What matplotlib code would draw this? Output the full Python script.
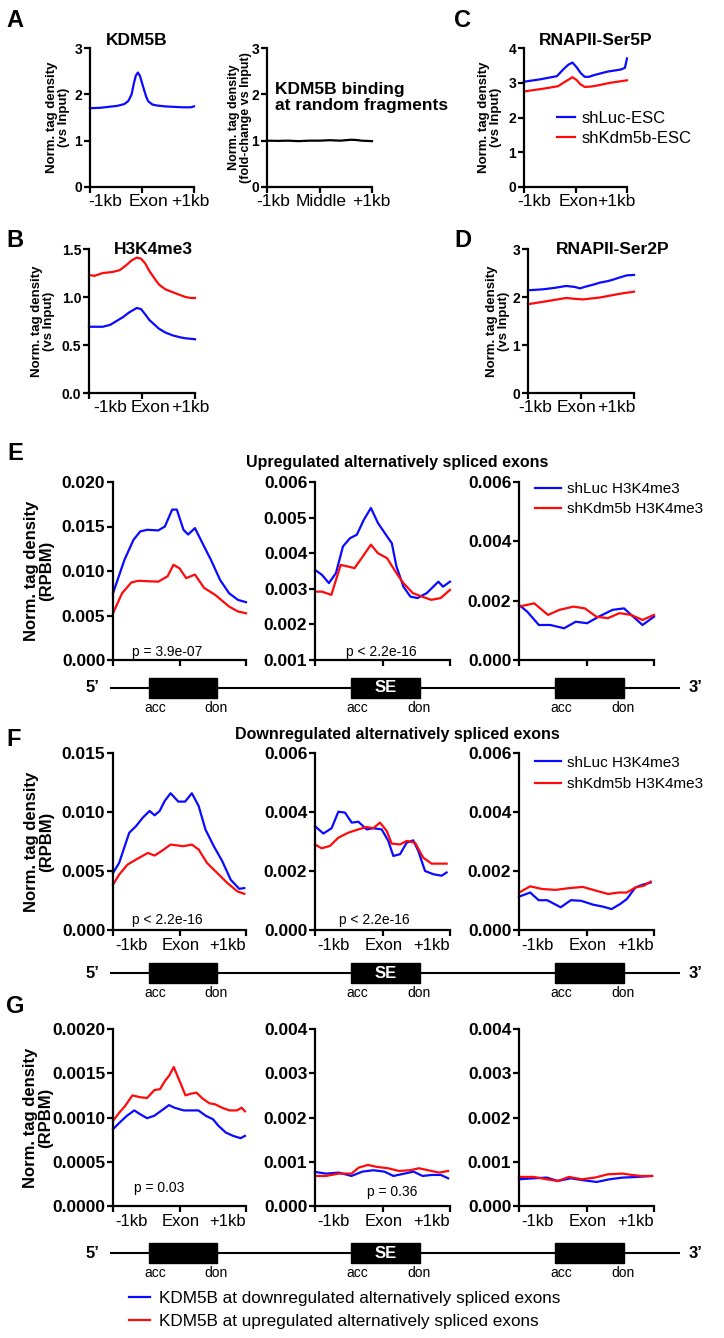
import matplotlib
matplotlib.use("Agg")
import matplotlib.pyplot as plt
from matplotlib.ticker import FormatStrFormatter
from matplotlib.patches import Rectangle
from matplotlib.lines import Line2D

plt.rcParams['font.family'] = ['Liberation Sans', 'DejaVu Sans']

BLUE = '#0a0aff'
RED = '#ff0a0a'

# positions are fractions of the window: 0 = -1kb, 0.5 = exon, 1 = +1kb

# A: KDM5B
a_kdm5b_x = [0, 0.1, 0.26, 0.33, 0.37, 0.40, 0.42, 0.44, 0.46, 0.48, 0.51, 0.54, 0.56, 0.60, 0.64, 0.72, 0.8, 0.9, 0.97, 1.0]
a_kdm5b_y = [1.70, 1.71, 1.75, 1.79, 1.86, 2.00, 2.22, 2.40, 2.47, 2.40, 2.17, 1.95, 1.85, 1.78, 1.76, 1.74, 1.73, 1.72, 1.72, 1.74]
a_random_x = [0, 0.1, 0.2, 0.3, 0.4, 0.5, 0.6, 0.7, 0.8, 0.85, 0.9, 1.0]
a_random_y = [1.0, 0.995, 1.0, 0.99, 1.0, 1.0, 1.01, 1.0, 1.02, 1.015, 1.0, 0.99]

# B: H3K4me3
b_red_x = [0, 0.05, 0.13, 0.22, 0.29, 0.35, 0.40, 0.45, 0.49, 0.53, 0.57, 0.62, 0.66, 0.72, 0.79, 0.86, 0.91, 0.96, 1.0]
b_red_y = [1.23, 1.22, 1.25, 1.26, 1.28, 1.33, 1.38, 1.41, 1.40, 1.35, 1.27, 1.19, 1.13, 1.08, 1.05, 1.02, 1.00, 0.99, 0.99]
b_blue_x = [0, 0.13, 0.2, 0.26, 0.32, 0.38, 0.45, 0.49, 0.53, 0.57, 0.62, 0.66, 0.72, 0.79, 0.86, 0.91, 1.0]
b_blue_y = [0.69, 0.69, 0.71, 0.75, 0.79, 0.84, 0.885, 0.875, 0.82, 0.76, 0.71, 0.67, 0.63, 0.60, 0.58, 0.57, 0.56]

# C: RNAPII-Ser5P
c_blue_x = [0, 0.16, 0.32, 0.38, 0.43, 0.47, 0.51, 0.55, 0.59, 0.63, 0.68, 0.81, 0.94, 0.98, 1.0]
c_blue_y = [3.03, 3.10, 3.19, 3.38, 3.52, 3.58, 3.45, 3.28, 3.17, 3.17, 3.22, 3.32, 3.38, 3.43, 3.70]
c_red_x = [0, 0.19, 0.33, 0.40, 0.47, 0.51, 0.55, 0.59, 0.65, 0.71, 0.84, 1.0]
c_red_y = [2.75, 2.83, 2.90, 3.03, 3.16, 3.08, 2.95, 2.88, 2.89, 2.92, 3.0, 3.07]

# D: RNAPII-Ser2P
d_blue_x = [0, 0.14, 0.25, 0.36, 0.44, 0.49, 0.55, 0.62, 0.68, 0.75, 0.8, 0.87, 0.93, 1.0]
d_blue_y = [2.14, 2.16, 2.19, 2.23, 2.21, 2.18, 2.22, 2.26, 2.30, 2.33, 2.36, 2.41, 2.45, 2.46]
d_red_x = [0, 0.17, 0.36, 0.45, 0.52, 0.6, 0.68, 0.8, 0.9, 1.0]
d_red_y = [1.85, 1.91, 1.98, 1.96, 1.95, 1.97, 1.99, 2.04, 2.08, 2.11]

# E: upregulated exons (upstream / SE / downstream)
e1_blue_x = [0, 0.086, 0.154, 0.205, 0.257, 0.34, 0.39, 0.445, 0.48, 0.53, 0.565, 0.616, 0.685, 0.736, 0.805, 0.873, 0.94, 1.0]
e1_blue_y = [0.0075, 0.01125, 0.0135, 0.01445, 0.01463, 0.01456, 0.015, 0.0169, 0.0169, 0.01463, 0.0141, 0.01482, 0.01276, 0.01126, 0.009, 0.0075, 0.00675, 0.0065]
e1_red_x = [0, 0.068, 0.137, 0.188, 0.34, 0.41, 0.455, 0.5, 0.55, 0.616, 0.685, 0.77, 0.873, 0.94, 1.0]
e1_red_y = [0.00525, 0.0075, 0.0087, 0.0089, 0.0088, 0.0094, 0.0107, 0.0103, 0.0092, 0.0096, 0.0081, 0.0073, 0.006, 0.00545, 0.00525]
e2_blue_x = [0, 0.052, 0.103, 0.155, 0.207, 0.259, 0.31, 0.362, 0.414, 0.466, 0.534, 0.569, 0.603, 0.655, 0.707, 0.759, 0.828, 0.914, 0.948, 1.0]
e2_blue_y = [0.00353, 0.00339, 0.00316, 0.00344, 0.00419, 0.00442, 0.00452, 0.00494, 0.00527, 0.00485, 0.00447, 0.00428, 0.00363, 0.00306, 0.00278, 0.00274, 0.00288, 0.0032, 0.00306, 0.0032]
e2_red_x = [0, 0.052, 0.121, 0.19, 0.24, 0.293, 0.345, 0.414, 0.466, 0.534, 0.603, 0.655, 0.724, 0.793, 0.862, 0.931, 1.0]
e2_red_y = [0.00292, 0.00292, 0.00283, 0.00367, 0.00363, 0.00358, 0.00386, 0.00424, 0.004, 0.00386, 0.00344, 0.00316, 0.00288, 0.00278, 0.00269, 0.00274, 0.00297]
e3_blue_x = [0, 0.061, 0.147, 0.232, 0.334, 0.42, 0.505, 0.59, 0.693, 0.778, 0.846, 0.915, 1.0]
e3_blue_y = [0.00186, 0.00163, 0.00118, 0.00118, 0.00107, 0.00129, 0.00124, 0.00146, 0.00169, 0.00174, 0.00146, 0.00118, 0.00146]
e3_red_x = [0, 0.113, 0.215, 0.3, 0.403, 0.488, 0.573, 0.659, 0.744, 0.829, 0.915, 1.0]
e3_red_y = [0.0018, 0.00191, 0.00152, 0.00169, 0.0018, 0.00174, 0.00146, 0.00141, 0.00158, 0.00152, 0.00135, 0.00152]

# F: downregulated exons
f1_blue_x = [0, 0.046, 0.122, 0.173, 0.224, 0.275, 0.313, 0.351, 0.389, 0.433, 0.491, 0.542, 0.593, 0.644, 0.695, 0.758, 0.822, 0.885, 0.949, 0.987]
f1_blue_y = [0.00483, 0.00568, 0.00824, 0.0088, 0.00952, 0.01009, 0.00972, 0.01009, 0.01094, 0.01159, 0.01088, 0.01088, 0.01159, 0.01051, 0.00852, 0.0071, 0.00582, 0.00426, 0.00349, 0.00355]
f1_red_x = [0, 0.046, 0.109, 0.173, 0.262, 0.313, 0.364, 0.433, 0.529, 0.593, 0.644, 0.707, 0.784, 0.86, 0.936, 0.987]
f1_red_y = [0.00384, 0.00469, 0.00554, 0.00597, 0.00653, 0.00631, 0.00668, 0.00724, 0.0071, 0.00724, 0.00682, 0.00568, 0.00483, 0.00398, 0.00327, 0.00307]
f2_blue_x = [0, 0.062, 0.123, 0.173, 0.222, 0.272, 0.321, 0.383, 0.432, 0.494, 0.543, 0.58, 0.63, 0.679, 0.728, 0.765, 0.815, 0.877, 0.938, 0.975]
f2_blue_y = [0.00352, 0.00327, 0.00345, 0.00401, 0.00398, 0.00364, 0.00367, 0.00341, 0.00345, 0.00341, 0.00302, 0.00251, 0.00257, 0.00296, 0.00304, 0.00268, 0.002, 0.00189, 0.00184, 0.00195]
f2_red_x = [0, 0.049, 0.111, 0.173, 0.247, 0.321, 0.383, 0.432, 0.481, 0.531, 0.568, 0.63, 0.679, 0.741, 0.802, 0.864, 0.926, 0.975]
f2_red_y = [0.0029, 0.00277, 0.00285, 0.00313, 0.0033, 0.00341, 0.00349, 0.00345, 0.00364, 0.00336, 0.00293, 0.0029, 0.00302, 0.00296, 0.00245, 0.00225, 0.00225, 0.00225]
f3_blue_x = [0, 0.083, 0.146, 0.209, 0.309, 0.384, 0.46, 0.548, 0.623, 0.686, 0.749, 0.799, 0.862, 0.912, 0.975]
f3_blue_y = [0.00113, 0.00127, 0.00101, 0.00101, 0.00077, 0.00101, 0.00099, 0.00086, 0.00079, 0.00071, 0.00088, 0.00105, 0.00144, 0.00153, 0.00161]
f3_red_x = [0, 0.083, 0.171, 0.271, 0.372, 0.472, 0.573, 0.661, 0.736, 0.799, 0.862, 0.925, 0.975]
f3_red_y = [0.00127, 0.00148, 0.00139, 0.00136, 0.00142, 0.00146, 0.00133, 0.00122, 0.00127, 0.00127, 0.00144, 0.0015, 0.00164]

# G: KDM5B at down (blue) / up (red) regulated exons
g1_red_x = [0, 0.05, 0.091, 0.146, 0.201, 0.256, 0.311, 0.353, 0.394, 0.421, 0.457, 0.504, 0.545, 0.587, 0.628, 0.669, 0.725, 0.766, 0.821, 0.876, 0.931, 0.967, 0.992]
g1_red_y = [0.000962, 0.00106, 0.00113, 0.00125, 0.00123, 0.00122, 0.00131, 0.00132, 0.00142, 0.00147, 0.00157, 0.0014, 0.00125, 0.00127, 0.00128, 0.00122, 0.00116, 0.00115, 0.00111, 0.00108, 0.00108, 0.00111, 0.00107]
g1_blue_x = [0, 0.05, 0.105, 0.16, 0.201, 0.256, 0.311, 0.366, 0.421, 0.463, 0.532, 0.587, 0.642, 0.697, 0.752, 0.793, 0.848, 0.904, 0.959, 0.992]
g1_blue_y = [0.000868, 0.000943, 0.00102, 0.00108, 0.00104, 0.000992, 0.00102, 0.00108, 0.00114, 0.00111, 0.00108, 0.00108, 0.00108, 0.00102, 0.00098, 0.000906, 0.00083, 0.000792, 0.000766, 0.000792]
g2_blue_x = [0, 0.081, 0.176, 0.27, 0.351, 0.432, 0.514, 0.581, 0.662, 0.73, 0.797, 0.865, 0.932, 0.986]
g2_blue_y = [0.00077, 0.000732, 0.000755, 0.000679, 0.000777, 0.000808, 0.000777, 0.000679, 0.000732, 0.000777, 0.000679, 0.000702, 0.000702, 0.000626]
g2_red_x = [0, 0.081, 0.176, 0.27, 0.324, 0.392, 0.459, 0.541, 0.622, 0.703, 0.77, 0.838, 0.919, 0.986]
g2_red_y = [0.000679, 0.000679, 0.000732, 0.000732, 0.000868, 0.000928, 0.000883, 0.000853, 0.000792, 0.000808, 0.000853, 0.000808, 0.000755, 0.000792]
g3_blue_x = [0, 0.11, 0.205, 0.288, 0.384, 0.479, 0.575, 0.671, 0.767, 0.877, 0.986]
g3_blue_y = [0.000604, 0.000626, 0.000642, 0.000566, 0.000626, 0.000581, 0.000543, 0.000604, 0.000642, 0.000657, 0.000679]
g3_red_x = [0, 0.11, 0.205, 0.288, 0.37, 0.466, 0.562, 0.658, 0.767, 0.836, 0.904, 0.986]
g3_red_y = [0.000657, 0.000657, 0.000604, 0.000566, 0.000657, 0.000604, 0.000642, 0.000717, 0.000732, 0.000702, 0.000679, 0.000679]

W, H = 724, 1338
fig = plt.figure(figsize=(W / 100, H / 100), dpi=100)


def px_axes(x0, y0, x1, y1):
    return fig.add_axes([x0 / W, 1 - y1 / H, (x1 - x0) / W, (y1 - y0) / H])


def style(ax, ylim, yticks, fmt, ysize, xlabels=None, xpos=None, xsize=12.5, xpad=5):
    for s in ['top', 'right']:
        ax.spines[s].set_visible(False)
    for s in ['left', 'bottom']:
        ax.spines[s].set_linewidth(1.6)
    ax.set_xlim(0, 1)
    ax.set_ylim(*ylim)
    ax.set_yticks(yticks)
    ax.yaxis.set_major_formatter(FormatStrFormatter(fmt))
    ax.set_xticks([0, 0.5, 1])
    ax.set_xticklabels([])
    ax.tick_params(width=1.6, length=4, pad=1.5)
    ax.tick_params(axis='y', labelsize=ysize)
    for t in ax.get_yticklabels():
        t.set_fontweight('bold')
    if xlabels:
        # labels sit loosely under the axis, not exactly on the tick marks
        ax.set_xticks(xpos, minor=True)
        ax.set_xticklabels(xlabels, minor=True, fontsize=xsize)
        ax.tick_params(axis='x', which='minor', length=0, pad=xpad)


def ylab(ax, text, xfrac, size):
    ax.set_ylabel(text, fontsize=size, fontweight='bold', linespacing=1.05)
    ax.yaxis.set_label_coords(xfrac, 0.5)


def letter(x, y, s):
    fig.text(x / W, 1 - y / H, s, fontsize=17, fontweight='bold', va='top')


kb = ['-1kb', 'Exon', '+1kb']
lw = 1.6

# ---------------- A ----------------
ax = px_axes(90, 48, 194, 187)
ax.plot(a_kdm5b_x, a_kdm5b_y, color=BLUE, lw=lw, clip_on=False)
style(ax, (0, 3), [0, 1, 2, 3], '%d', 10, kb, [0.145, 0.567, 0.96])
ylab(ax, 'Norm. tag density\n(vs Input)', -0.19, 9.5)
ax.text(0.45, 1.0, 'KDM5B', transform=ax.transAxes, ha='center', va='bottom',
        fontsize=12.5, fontweight='bold')

ax = px_axes(267, 48, 372, 187)
ax.plot(a_random_x, a_random_y, color='black', lw=lw, clip_on=False)
style(ax, (0, 3), [0, 1, 2, 3], '%d', 10, ['-1kb', 'Middle', '+1kb'], [0.06, 0.52, 0.99])
ylab(ax, 'Norm. tag density\n(fold-change vs Input)', -0.14, 9)
ax.text(0.08, 0.645, 'KDM5B binding\nat random fragments', transform=ax.transAxes,
        ha='left', va='center', fontsize=12.5, fontweight='bold', linespacing=1.1, clip_on=False)
letter(6, 9, 'A')

# ---------------- C ----------------
ax = px_axes(524, 48, 627, 187)
lb, = ax.plot(c_blue_x, c_blue_y, color=BLUE, lw=lw, clip_on=False)
lr, = ax.plot(c_red_x, c_red_y, color=RED, lw=lw, clip_on=False)
style(ax, (0, 4), [0, 1, 2, 3, 4], '%d', 10, kb, [0.10, 0.53, 0.90])
ylab(ax, 'Norm. tag density\n(vs Input)', -0.21, 9.5)
ax.text(0.70, 1.0, 'RNAPII-Ser5P', transform=ax.transAxes, ha='center', va='bottom',
        fontsize=12.5, fontweight='bold')
ax.legend([lb, lr], ['shLuc-ESC', 'shKdm5b-ESC'], loc='upper left', bbox_to_anchor=(0.32, 0.55),
          frameon=False, fontsize=12, handlelength=1.1, handletextpad=0.4, borderpad=0,
          borderaxespad=0, labelspacing=0.3)
letter(454, 9, 'C')

# ---------------- B ----------------
ax = px_axes(89, 249, 195, 393)
ax.plot(b_red_x, b_red_y, color=RED, lw=lw, clip_on=False)
ax.plot(b_blue_x, b_blue_y, color=BLUE, lw=lw, clip_on=False)
style(ax, (0, 1.5), [0, 0.5, 1.0, 1.5], '%.1f', 10, kb, [0.2, 0.58, 0.96])
ylab(ax, 'Norm. tag density\n(vs Input)', -0.32, 9.5)
ax.text(0.61, 1.0, 'H3K4me3', transform=ax.transAxes, ha='center', va='center',
        fontsize=12.5, fontweight='bold')
letter(6, 229, 'B')

# ---------------- D ----------------
ax = px_axes(528, 249, 634, 393)
ax.plot(d_blue_x, d_blue_y, color=BLUE, lw=lw, clip_on=False)
ax.plot(d_red_x, d_red_y, color=RED, lw=lw, clip_on=False)
style(ax, (0, 3), [0, 1, 2, 3], '%d', 10, kb, [0.07, 0.46, 0.83])
ylab(ax, 'Norm. tag density\n(vs Input)', -0.17, 9.5)
ax.text(0.80, 1.0, 'RNAPII-Ser2P', transform=ax.transAxes, ha='center', va='center',
        fontsize=12.5, fontweight='bold')
letter(454, 229, 'D')

# ---------------- E / F / G ----------------
cols = [(113, 246), (315, 450), (519, 654)]
rows = {'E': (482, 660), 'F': (753, 930), 'G': (1029, 1206)}
kb_pos = [0.14, 0.51, 0.86]


def row_axes(key):
    y0, y1 = rows[key]
    return [px_axes(c0, y0, c1, y1) for c0, c1 in cols]


def gene_diagram(y_line, panels):
    g = fig.add_axes([0, 1 - (y_line + 30) / H, 1, 60 / H])
    g.set_xlim(0, W)
    g.set_ylim(-30, 30)
    g.axis('off')
    g.plot([111, 679], [0, 0], color='black', lw=1.5)
    g.text(92, 0, '5\u2019', ha='center', va='center', fontsize=12, fontweight='bold')
    g.text(696, 0, '3\u2019', ha='center', va='center', fontsize=12, fontweight='bold')
    for i, p in enumerate(panels):
        bb = p.get_position()
        x0 = bb.x0 * W
        w = bb.width * W
        b0, b1 = x0 + 0.27 * w, x0 + 0.78 * w
        g.add_patch(Rectangle((b0, -10), b1 - b0, 20, color='black'))
        if i == 1:
            g.text((b0 + b1) / 2, 0, 'SE', color='white', ha='center', va='center',
                   fontsize=12, fontweight='bold')
        g.text(b0 + 6, -20, 'acc', ha='center', va='center', fontsize=10)
        g.text(b1 - 1, -20, 'don', ha='center', va='center', fontsize=10)


def ptext(ax, x, y, s):
    ax.text(x, y, s, transform=ax.transAxes, ha='center', va='center', fontsize=10)


rpbm = 'Norm. tag density\n(RPBM)'

# E
e = row_axes('E')
e[0].plot(e1_blue_x, e1_blue_y, color=BLUE, lw=lw, clip_on=False)
e[0].plot(e1_red_x, e1_red_y, color=RED, lw=lw, clip_on=False)
style(e[0], (0, 0.02), [0, 0.005, 0.01, 0.015, 0.02], '%.3f', 12.5)
ylab(e[0], rpbm, -0.44, 12)
ptext(e[0], 0.41, 0.045, 'p = 3.9e-07')
e[1].plot(e2_blue_x, e2_blue_y, color=BLUE, lw=lw, clip_on=False)
e[1].plot(e2_red_x, e2_red_y, color=RED, lw=lw, clip_on=False)
style(e[1], (0.001, 0.006), [0.001, 0.002, 0.003, 0.004, 0.005, 0.006], '%.3f', 12.5)
ptext(e[1], 0.49, 0.045, 'p < 2.2e-16')
eb, = e[2].plot(e3_blue_x, e3_blue_y, color=BLUE, lw=lw, clip_on=False)
er, = e[2].plot(e3_red_x, e3_red_y, color=RED, lw=lw, clip_on=False)
style(e[2], (0, 0.006), [0, 0.002, 0.004, 0.006], '%.3f', 12.5)
e[2].legend([eb, er], ['shLuc H3K4me3', 'shKdm5b H3K4me3'], loc='upper left',
            bbox_to_anchor=(0.12, 1.0), frameon=False, fontsize=11, handlelength=1.7,
            handletextpad=0.35, borderpad=0, borderaxespad=0, labelspacing=0.4)
fig.text(397 / W, 1 - 462 / H, 'Upregulated alternatively spliced exons', ha='center',
         va='center', fontsize=11.5, fontweight='bold')
letter(7, 442, 'E')
gene_diagram(688, e)

# F
f = row_axes('F')
f[0].plot(f1_blue_x, f1_blue_y, color=BLUE, lw=lw, clip_on=False)
f[0].plot(f1_red_x, f1_red_y, color=RED, lw=lw, clip_on=False)
style(f[0], (0, 0.015), [0, 0.005, 0.01, 0.015], '%.3f', 12.5, kb, kb_pos, 12, 6)
ylab(f[0], rpbm, -0.44, 12)
ptext(f[0], 0.41, 0.056, 'p < 2.2e-16')
f[1].plot(f2_blue_x, f2_blue_y, color=BLUE, lw=lw, clip_on=False)
f[1].plot(f2_red_x, f2_red_y, color=RED, lw=lw, clip_on=False)
style(f[1], (0, 0.006), [0, 0.002, 0.004, 0.006], '%.3f', 12.5, kb, kb_pos, 12, 6)
ptext(f[1], 0.44, 0.056, 'p < 2.2e-16')
fb, = f[2].plot(f3_blue_x, f3_blue_y, color=BLUE, lw=lw, clip_on=False)
fr, = f[2].plot(f3_red_x, f3_red_y, color=RED, lw=lw, clip_on=False)
style(f[2], (0, 0.006), [0, 0.002, 0.004, 0.006], '%.3f', 12.5, kb, kb_pos, 12, 6)
f[2].legend([fb, fr], ['shLuc H3K4me3', 'shKdm5b H3K4me3'], loc='upper left',
            bbox_to_anchor=(0.12, 0.985), frameon=False, fontsize=11, handlelength=1.7,
            handletextpad=0.35, borderpad=0, borderaxespad=0, labelspacing=0.5)
fig.text(397 / W, 1 - 735 / H, 'Downregulated alternatively spliced exons', ha='center',
         va='center', fontsize=11.5, fontweight='bold')
letter(6, 728, 'F')
gene_diagram(973, f)

# G
g = row_axes('G')
g[0].plot(g1_blue_x, g1_blue_y, color=BLUE, lw=lw, clip_on=False)
g[0].plot(g1_red_x, g1_red_y, color=RED, lw=lw, clip_on=False)
style(g[0], (0, 0.002), [0, 0.0005, 0.001, 0.0015, 0.002], '%.4f', 12.5, kb, kb_pos, 12, 6)
ylab(g[0], rpbm, -0.45, 12)
ptext(g[0], 0.35, 0.10, 'p = 0.03')
g[1].plot(g2_blue_x, g2_blue_y, color=BLUE, lw=lw, clip_on=False)
g[1].plot(g2_red_x, g2_red_y, color=RED, lw=lw, clip_on=False)
style(g[1], (0, 0.004), [0, 0.001, 0.002, 0.003, 0.004], '%.3f', 12.5, kb, kb_pos, 12, 6)
ptext(g[1], 0.57, 0.08, 'p = 0.36')
g[2].plot(g3_blue_x, g3_blue_y, color=BLUE, lw=lw, clip_on=False)
g[2].plot(g3_red_x, g3_red_y, color=RED, lw=lw, clip_on=False)
style(g[2], (0, 0.004), [0, 0.001, 0.002, 0.003, 0.004], '%.3f', 12.5, kb, kb_pos, 12, 6)
letter(6, 995, 'G')
gene_diagram(1253, g)

fig.legend([Line2D([], [], color=BLUE, lw=lw), Line2D([], [], color=RED, lw=lw)],
           ['KDM5B at downregulated alternatively spliced exons',
            'KDM5B at upregulated alternatively spliced exons'],
           loc='upper left', bbox_to_anchor=(129 / W, 1 - 1291 / H), frameon=False,
           fontsize=12.3, handlelength=1.2, handletextpad=0.55, borderpad=0,
           borderaxespad=0, labelspacing=0.45)

fig.savefig('out.png', dpi=100)
